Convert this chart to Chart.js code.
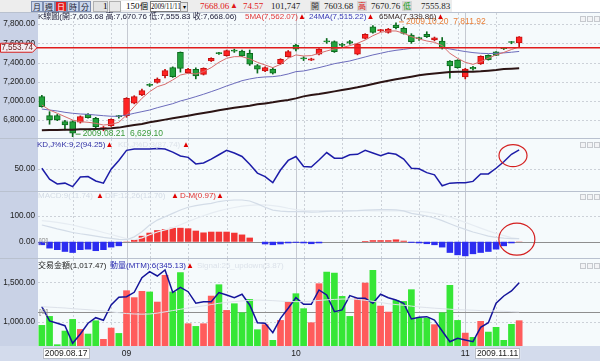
<!DOCTYPE html>
<html>
<head>
<meta charset="utf-8">
<script src="https://cdn.jsdelivr.net/npm/chart.js@4.4.1/dist/chart.umd.min.js"></script>
<style>
body{margin:0;width:600px;height:361px;overflow:hidden;position:relative;background:#b9c1cf;font-family:"Liberation Sans","Noto Sans CJK TC",sans-serif;}
canvas{position:absolute;left:0;}
.t{position:absolute;white-space:nowrap;font-size:8px;line-height:10px;}
.b{position:absolute;top:1px;width:10px;height:9px;border:1px solid #7d8db0;background:#c9d5ec;font:8px/9px "Noto Sans CJK TC";text-align:center;color:#223;}
.on{background:#e31c1c;color:#fff;}
.n{position:absolute;top:1px;font:9px/10px "Liberation Serif",serif;white-space:nowrap;}
.ic{position:absolute;width:4px;height:4px;border:1px solid #c6c9ce;background:#f2f3f5;}
</style>
</head>
<body>
<div style="position:absolute;left:0;top:0;width:600px;height:12px;background:#fff;"></div>
<div style="position:absolute;left:0;top:0;width:452px;height:12px;background:#ededed;"></div>
<span class="b" style="left:31px">月</span><span class="b" style="left:43px">週</span><span class="b on" style="left:55px">日</span><span class="b" style="left:67px">時</span><span class="b" style="left:79px">分</span>
<div style="position:absolute;left:93px;top:1px;width:13px;height:9px;border:1px solid #b0b0b0;background:#e2e2e2;"></div>
<span class="n" style="left:103px">1</span>
<div style="position:absolute;left:109px;top:1px;width:10px;height:9px;border:1px solid #b0b0b0;background:#e8e8e8;"></div>
<div style="position:absolute;left:121px;top:1px;width:19px;height:9px;background:#fff;"></div>
<span class="n" style="left:126px">150</span>
<span class="n" style="left:140px;font-family:'Noto Sans CJK TC';font-size:8px">個</span>
<div style="position:absolute;left:150px;top:1px;width:29px;height:9px;border:1px solid #7a7a7a;background:#fff;"></div>
<span class="n" style="left:151px;font-size:8.5px;transform:scaleX(0.78);transform-origin:0 0">2009/11/11</span>
<div style="position:absolute;left:180px;top:2px;width:6px;height:8px;border:1px solid #9a9a9a;background:#e8e8e8;font:6px/8px sans-serif;text-align:center;">▾</div>
<span class="n" style="left:200px;color:#e01818">7668.06</span>
<span class="n" style="left:230px;color:#e01818;font-size:8px">▲</span>
<span class="n" style="left:243px;color:#e01818">74.57</span>
<span class="n" style="left:271px;color:#222">101,747</span>
<div style="position:absolute;left:310px;top:1px;width:10px;height:10px;background:#d6d6d6;"></div>
<span class="n" style="left:311px;font-family:'Noto Sans CJK TC';font-size:8px;color:#333">開</span>
<span class="n" style="left:324px;color:#222">7603.68</span>
<div style="position:absolute;left:357px;top:1px;width:10px;height:10px;background:#d6d6d6;"></div>
<span class="n" style="left:358px;font-family:'Noto Sans CJK TC';font-size:8px;color:#e01818">高</span>
<span class="n" style="left:371px;color:#222">7670.76</span>
<div style="position:absolute;left:402px;top:1px;width:10px;height:10px;background:#d6d6d6;"></div>
<span class="n" style="left:403px;font-family:'Noto Sans CJK TC';font-size:8px;color:#18a018">低</span>
<span class="n" style="left:421px;color:#222">7555.83</span>

<canvas id="cPrice" width="600" height="125" style="top:13px"></canvas>
<canvas id="cKD" width="600" height="52" style="top:139px"></canvas>
<canvas id="cMACD" width="600" height="66" style="top:192px"></canvas>
<canvas id="cVol" width="600" height="102" style="top:259px"></canvas>

<span class="t" style="left:38px;top:12px;color:#1c1c38">K線圖(開:7,603.68 高:7,670.76 低:7,555.83 收:7,668.06)</span>
<span class="t" style="left:245px;top:12px;color:#e23a3a">5MA(7,562.07)<span style="color:#e00000">▲</span></span>
<span class="t" style="left:309px;top:12px;color:#3a3ab4">24MA(7,515.22)<span style="color:#e00000">▲</span></span>
<span class="t" style="left:379px;top:12px;color:#3a2a2a">65MA(7,339.86)<span style="color:#e00000">▲</span></span>

<span class="t" style="left:37px;top:140px;color:#3030a4">KD,J%K:9,2(94.25)<span style="color:#e00000">▲</span></span>
<span class="t" style="left:118px;top:140px;color:#dde3ea">KD,J%D:3(87.74)</span>
<span class="t" style="left:182px;top:140px;color:#e00000">▲</span>

<span class="t" style="left:38px;top:191px;color:#d3dbe5">MACD:9(11.74)</span>
<span class="t" style="left:96px;top:191px;color:#e00000">▲</span>
<span class="t" style="left:105px;top:191px;color:#d3dbe5">DIF:12,26(12.70)</span>
<span class="t" style="left:171px;top:191px;color:#e00000">▲</span>
<span class="t" style="left:180px;top:191px;color:#e03030">D-M(0.97)<span style="color:#e00000">▲</span></span>
<span class="t" style="left:39px;top:236px;color:#8a8a8a">[0]</span>

<span class="t" style="left:38px;top:261px;color:#222">交易金額(1,017.47)</span>
<span class="t" style="left:110px;top:261px;color:#2c2cb0">動量(MTM):6(345.13)<span style="color:#e00000">▲</span></span>
<span class="t" style="left:197px;top:261px;color:#dce2ea">Signal:25_updown(3.87)</span>
<span class="t" style="left:39px;top:307px;color:#8a8a8a">[0]</span>

<div class="ic" style="left:580px;top:16px"></div><div class="ic" style="left:587px;top:16px"></div><div class="ic" style="left:594px;top:16px"></div>
<div class="ic" style="left:580px;top:142px"></div><div class="ic" style="left:587px;top:142px"></div><div class="ic" style="left:594px;top:142px"></div>
<div class="ic" style="left:580px;top:194px"></div><div class="ic" style="left:587px;top:194px"></div><div class="ic" style="left:594px;top:194px"></div>
<div class="ic" style="left:580px;top:263px"></div><div class="ic" style="left:587px;top:263px"></div><div class="ic" style="left:594px;top:263px"></div>

<script>
// trading days (categories)
const dates = [
  '2009.08.17','2009.08.18','2009.08.19','2009.08.20','2009.08.21','2009.08.24','2009.08.25','2009.08.26','2009.08.27','2009.08.28','2009.08.31',
  '2009.09.01','2009.09.02','2009.09.03','2009.09.04','2009.09.07','2009.09.08','2009.09.09','2009.09.10','2009.09.11','2009.09.14','2009.09.15',
  '2009.09.16','2009.09.17','2009.09.18','2009.09.21','2009.09.22','2009.09.23','2009.09.24','2009.09.25','2009.09.28','2009.09.29','2009.09.30',
  '2009.10.01','2009.10.02','2009.10.05','2009.10.06','2009.10.07','2009.10.08','2009.10.09','2009.10.12','2009.10.13','2009.10.14','2009.10.15',
  '2009.10.16','2009.10.19','2009.10.20','2009.10.21','2009.10.22','2009.10.23','2009.10.26','2009.10.27','2009.10.28','2009.10.29','2009.10.30',
  '2009.11.02','2009.11.03','2009.11.04','2009.11.05','2009.11.06','2009.11.09','2009.11.10','2009.11.11'
];

const openP = [7045,6847,6847,6785,6785,6779,6862,6820,6712,6740, 6845,6847,6976,7062,7168,7194,7263,7347,7506,7295,
  7330,7277,7416,7498,7471,7522,7520,7496,7368,7312, 7333,7388,7461,7582,7442,7425,7487,7620,7617,7582,
  7617,7487,7651,7772,7732,7714,7790,7755,7686,7652, 7693,7634,7624,7416,7426,7250,7350,7386,7475,7510, 7547,7612,7603.68];
const highP = [7060,6889,6860,6800,6795,6845,6870,6830,6735,6815, 6850,7035,7055,7125,7180,7240,7330,7355,7510,7340,
  7345,7345,7450,7505,7530,7540,7530,7530,7380,7355, 7345,7440,7525,7590,7460,7445,7545,7650,7625,7600,
  7630,7600,7700,7785,7745,7755,7811.92,7770,7700,7665, 7720,7665,7660,7420,7430,7340,7360,7470,7480,7515, 7555,7620,7670.76];
const lowP = [6935,6758,6795,6700,6629.1,6770,6820,6720,6690,6735, 6820,6830,6970,7055,7150,7185,7240,7245,7300,7290,
  7230,7270,7410,7485,7465,7505,7460,7370,7290,7305, 7280,7380,7455,7520,7420,7420,7480,7600,7505,7560,
  7590,7480,7645,7705,7720,7705,7750,7695,7600,7630, 7660,7625,7540,7236,7340,7230,7320,7380,7425,7470, 7535,7595,7555.83];
const closeP = [6941,6802,6802,6750,6664,6837,6827,6733,6718,6810, 6838,7028,7045,7107,7162,7229,7315,7253,7339,7330,
  7261,7340,7444,7492,7523,7518,7468,7382,7330,7347, 7288,7434,7513,7540,7438,7438,7539,7614,7513,7578,
  7600,7592,7693,7714,7736,7748,7762,7703,7617,7648, 7670,7658,7548,7364,7347,7333,7333,7465,7430,7475, 7543,7608,7668.06];

const ma5 = [6958,6906,6872,6837,6802,6785,6778,6768,6750,6757, 6778,6854,6941,7028,7097,7149,7174,7219,7270,7288,
  7281,7305,7347,7402,7444,7461,7461,7437,7402,7374, 7347,7381,7444,7479,7468,7472,7496,7520,7541,7555,
  7576,7600,7634,7679,7714,7728,7728,7704,7669,7645, 7624,7610,7576,7496,7444,7402,7381,7409,7444,7480, 7505,7535,7562.07];
const ma24 = [6916,6906,6896,6882,6872,6865,6861,6854,6847,6841, 6841,6854,6872,6889,6906,6930,6951,6972,7000,7021,
  7045,7070,7097,7125,7156,7183,7211,7229,7243,7250, 7253,7263,7281,7305,7312,7329,7347,7367,7388,7402,
  7416,7437,7458,7479,7496,7514,7527,7537,7548,7551, 7555,7555,7555,7541,7527,7514,7503,7496,7493,7496, 7500,7507,7515.22];
const ma65 = [6695,6698,6698,6702,6702,6705,6705,6709,6712,6716, 6723,6737,6750,6761,6778,6792,6806,6820,6833,6847,
  6861,6875,6889,6903,6916,6930,6941,6951,6965,6975, 6986,7000,7010,7027,7048,7062,7073,7086,7100,7114,
  7128,7142,7159,7176,7194,7211,7225,7239,7253,7267, 7277,7287,7294,7301,7305,7305,7305,7308,7315,7322, 7333,7336,7339.86];

const kLine = [52,27,16,18,10,32,33,23,18,50, 70,93,96,96,96,97,96,89,80,77,
  62,64,73,83,93,87,79,61,41,33, 19,48,70,79,56,55,71,88,75,75,
  83,84,93,87,81,87,84,73,52,51, 42,37,12,18,19,19,22,39,39,52, 67,84,94.25];

const dif = [65,58,50,43,36,31,27,22,17,13, 9,8,19,39,65,84,97,110,123,134,
  140,145,149,156,160,162,162,158,147,134, 123,119,117,117,117,115,116,118,119,119,
  120,121,123,124,125,125,124,120,110,105, 100,92,82,70,58,48,38,30,22,17, 14,12,12.26];
const macdSig = [82,79,75,70,65,58,51,44,36,28, 20,12,8,15,27,38,46,54,66,78,
  90,101,111,120,127,133,138,141,143,143, 140,136,130,125,122,121,121,121,121,121,
  121,121,121,120,120,120,120,120,120,118, 115,110,104,96,86,75,64,53,42,32, 24,16,11.74];
const osc = [-13,-26,-32,-39,-43,-32,-30,-36,-32,-22, -17,1,9,23,35,45,49,54,54,52,
  43,36,39,39,39,35,28,16,0,-10, -13,-10,-6,-4,-6,-9,-6,0,0,0,
  0,0,3,6,6,6,9,4,-4,-6, -9,-13,-22,-43,-52,-56,-48,-43,-39,-30, -17,-6,0.97];

const volume = [958,1072,713,886,1034,907,848,1017,781,924, 856,1398,1310,1390,1382,1254,1593,1382,1627,979,
  945,979,1330,1474,1148,1233,1119,1288,903,967, 768,1021,1254,1360,1170,992,1487,1635,1622,1326,
  1072,1297,1495,1656,1203,1127,1275,1262,1411,1051, 1051,967,1119,1466,1021,860,806,1009,873,933, 768,971,1017.47];
const mtm = [65,-101,-128,-156,-362,-253,-128,-63,-93,85, 175,182,233,403,473,423,493,233,291,240,
  105,124,124,229,202,170,210,85,-121,-128, -238,-70,47,170,93,93,260,202,7,27,
  194,163,163,105,210,170,143,105,-78,-58, -51,-90,-218,-343,-303,-323,-343,-175,-121,105, 190,248,345.13];
const mtmSignal = [65,60,55,50,42,36,30,22,15,5, -5,-15,-20,-22,-20,-10,5,20,35,50,
  62,75,90,105,115,125,132,138,142,140, 136,130,126,124,124,130,138,145,150,154,
  155,150,140,128,115,100,90,82,72,62, 55,48,42,36,30,27,24,20,17,14, 11,7,3.87];

const priceTicks = [6800, 7000, 7200, 7400, 7600, 7800];
const kdTicks = [50];
const macdTicks = [0, 100];
const volTicks = [1000, 1500];
const lastClose = 7553.74;
const monthIdx = [11, 33, 55];
const xTickIdx = [0, 11, 33, 55, 62];
const xTickText = ['2009.08.17', '09', '10', '11', '2009.11.11'];

const N = dates.length;
const idx = dates.map((d, i) => i);
const up = idx.map(i => closeP[i] >= openP[i]);
const xy = arr => arr.map((v, i) => ({x: i, y: v}));
const fmt = v => v.toLocaleString('en-US', {minimumFractionDigits: 2, maximumFractionDigits: 2});

function hline(ctx, y, x0, x1) { y = Math.round(y) + 0.5; ctx.beginPath(); ctx.moveTo(x0, y); ctx.lineTo(x1, y); ctx.stroke(); }
function vline(ctx, x, y0, y1) { x = Math.round(x) + 0.5; ctx.beginPath(); ctx.moveTo(x, y0); ctx.lineTo(x, y1); ctx.stroke(); }

function panel(opts) {
  return {
    id: 'panel',
    beforeDraw(chart) {
      const {ctx, chartArea: a, width, height} = chart;
      const x = chart.scales.x, y = chart.scales.y;
      ctx.save();
      ctx.fillStyle = '#c9d2e6';
      ctx.fillRect(0, 0, width, height);
      ctx.fillStyle = '#f5fafc';
      ctx.fillRect(a.left, a.top, width - a.left, a.bottom - a.top);
      if (opts.band) {
        ctx.fillStyle = '#d3dbec';
        ctx.fillRect(0, a.bottom, width, height - a.bottom);
      }
      ctx.lineWidth = 1;
      ctx.strokeStyle = '#ccd1d8';
      ctx.setLineDash([2, 2]);
      for (let i = 4; i < N; i += 5) vline(ctx, x.getPixelForValue(i), a.top, a.bottom);
      for (const t of y.ticks) hline(ctx, y.getPixelForValue(t.value), a.left, width);
      ctx.setLineDash([]);
      ctx.strokeStyle = '#c6cad2';
      for (const i of monthIdx) vline(ctx, x.getPixelForValue(i), a.top, a.bottom);
      if (opts.zero) {
        ctx.strokeStyle = '#8e8e8e';
        hline(ctx, chart.scales[opts.zero].getPixelForValue(0), a.left, width);
      }
      ctx.restore();
    },
    afterDatasetsDraw(chart) { if (opts.after) opts.after(chart); }
  };
}

function yAxis(min, max, ticks) {
  return {
    position: 'left', min, max, beginAtZero: false,
    grid: {display: false, drawTicks: false, tickLength: 0}, border: {display: false},
    afterFit: s => { s.width = 38; s.paddingTop = 0; s.paddingBottom = 0; },
    afterBuildTicks: s => { s.ticks = ticks.map(v => ({value: v})); },
    ticks: {padding: 3, color: '#222', font: {size: 8.2, family: 'Liberation Sans'}, callback: v => fmt(v)}
  };
}
function xAxis(show) {
  return {
    type: 'linear', min: -0.5, max: 72.5, offset: false, display: show,
    grid: {display: false, drawTicks: false}, border: {display: false}, ticks: {display: false},
    afterFit: s => { s.height = show ? 15 : 0; s.paddingLeft = 0; s.paddingRight = 0; }
  };
}
function baseOptions(scales) {
  return {
    responsive: false, animation: false, events: [],
    layout: {padding: 0},
    plugins: {legend: {display: false}, tooltip: {enabled: false}},
    scales
  };
}
const line = (data, color, w, extra) => Object.assign({type: 'line', data: xy(data), borderColor: color, borderWidth: w, pointRadius: 0, fill: false, tension: 0, order: 0}, extra || {});

// price panel
new Chart(document.getElementById('cPrice'), {
  type: 'bar',
  data: {datasets: [
    line(ma5, '#d86c6c', 1),
    line(ma24, '#6c6cbc', 1),
    line(ma65, '#2c1414', 2),
    {data: idx.map(i => ({x: i, y: [openP[i], closeP[i]]})),
      backgroundColor: up.map(u => u ? '#ff2222' : '#22a23c'),
      borderColor: up.map(u => u ? '#c41010' : '#0c6a1e'),
      borderWidth: 1, borderSkipped: false, barThickness: 6, minBarLength: 1, grouped: false, order: 1},
    {data: idx.map(i => ({x: i, y: [lowP[i], highP[i]]})),
      backgroundColor: up.map(u => u ? '#c41010' : '#0c6a1e'),
      barThickness: 1, grouped: false, order: 2}
  ]},
  options: baseOptions({x: xAxis(false), y: yAxis(6615, 7915, priceTicks)}),
  plugins: [panel({after(chart) {
    const {ctx, width} = chart;
    const x = chart.scales.x, y = chart.scales.y;
    ctx.save();
    // last close guide line and tag
    const py = y.getPixelForValue(lastClose);
    ctx.strokeStyle = '#e01c1c'; ctx.lineWidth = 1.6;
    ctx.beginPath(); ctx.moveTo(36, py); ctx.lineTo(width, py); ctx.stroke();
    ctx.lineWidth = 1;
    ctx.beginPath();
    ctx.moveTo(0.5, py - 4.5); ctx.lineTo(32.5, py - 4.5); ctx.lineTo(37, py); ctx.lineTo(32.5, py + 4.5); ctx.lineTo(0.5, py + 4.5); ctx.closePath();
    ctx.fillStyle = '#f3eef2'; ctx.fill(); ctx.strokeStyle = '#d42020'; ctx.stroke();
    ctx.fillStyle = '#6a1a1a'; ctx.font = '8.2px "Liberation Sans"'; ctx.textAlign = 'right'; ctx.textBaseline = 'middle';
    ctx.fillText(fmt(lastClose), 33, py + 0.5);
    // low / high markers
    ctx.textAlign = 'left';
    ctx.font = '8.5px "Liberation Sans"';
    const lo = 4, hi = 46;
    const lx = x.getPixelForValue(lo), ly = y.getPixelForValue(lowP[lo]) - 2.5;
    ctx.strokeStyle = '#3a9a3a'; ctx.beginPath(); ctx.moveTo(lx + 3, ly); ctx.lineTo(lx + 8, ly); ctx.stroke();
    ctx.fillStyle = '#3a9a3a'; ctx.fillText(dates[lo] + '  ' + fmt(lowP[lo]), lx + 10, ly);
    const hx = x.getPixelForValue(hi), hy = y.getPixelForValue(highP[hi]) - 1;
    ctx.strokeStyle = '#e8803a'; ctx.beginPath(); ctx.moveTo(hx + 3, hy); ctx.lineTo(hx + 8, hy); ctx.stroke();
    ctx.fillStyle = '#e8803a'; ctx.fillText(dates[hi] + '  ' + fmt(highP[hi]), hx + 10, hy);
    ctx.restore();
  }})]
});

// KD panel
new Chart(document.getElementById('cKD'), {
  type: 'line',
  data: {datasets: [line(kLine, '#1c1ca8', 1.5)]},
  options: baseOptions({x: xAxis(false), y: yAxis(0, 119, kdTicks)}),
  plugins: [panel({after(chart) {
    const {ctx} = chart;
    const x = chart.scales.x, y = chart.scales.y;
    ctx.save();
    ctx.strokeStyle = '#d42020'; ctx.lineWidth = 1.2;
    ctx.beginPath();
    ctx.ellipse(x.getPixelForValue(61.2), y.getPixelForValue(81), 14, 11, 0, 0, Math.PI * 2);
    ctx.stroke();
    ctx.restore();
  }})]
});

// MACD panel
new Chart(document.getElementById('cMACD'), {
  type: 'bar',
  data: {datasets: [
    line(dif, '#d3dce7', 1.2),
    line(macdSig, '#e6ecf2', 1.2),
    {data: xy(osc), backgroundColor: osc.map(v => v >= 0 ? '#f23434' : '#2c2cf0'),
      barPercentage: 0.84, categoryPercentage: 1, grouped: false, order: 1}
  ]},
  options: baseOptions({x: xAxis(false), y: yAxis(-63, 193, macdTicks)}),
  plugins: [panel({zero: 'y', after(chart) {
    const {ctx} = chart;
    const x = chart.scales.x, y = chart.scales.y;
    ctx.save();
    ctx.strokeStyle = '#d42020'; ctx.lineWidth = 1.2;
    ctx.beginPath();
    ctx.ellipse(x.getPixelForValue(61.7), y.getPixelForValue(10), 18, 16, 0, 0, Math.PI * 2);
    ctx.stroke();
    ctx.restore();
  }})]
});

// turnover + momentum panel
new Chart(document.getElementById('cVol'), {
  type: 'bar',
  data: {datasets: [
    line(mtmSignal, '#dde2ea', 1, {yAxisID: 'y2'}),
    line(mtm, '#14149a', 1.5, {yAxisID: 'y2'}),
    {data: xy(volume), backgroundColor: up.map(u => u ? '#ff5c5c' : '#36e636'),
      barPercentage: 0.87, categoryPercentage: 1, grouped: false, order: 1, yAxisID: 'y'}
  ]},
  options: baseOptions({
    x: xAxis(true),
    y: yAxis(692, 1796, volTicks),
    y2: {display: false, min: -393, max: 621}
  }),
  plugins: [panel({band: true, zero: 'y2', after(chart) {
    const {ctx, chartArea: a, height} = chart;
    const x = chart.scales.x;
    ctx.save();
    ctx.font = '8.5px "Liberation Sans"';
    ctx.textBaseline = 'middle';
    const ty = a.bottom + (height - a.bottom) / 2 + 0.5;
    xTickIdx.forEach((i, k) => {
      const t = xTickText[k];
      const px = x.getPixelForValue(i);
      const w = ctx.measureText(t).width;
      if (t.length > 2) {
        const left = k === 0 ? px + 1 : px + 1 - w - 4;
        ctx.fillStyle = '#ffffff';
        ctx.fillRect(left, a.bottom + 2, w + 4, 11);
        ctx.strokeStyle = '#b8bcc4'; ctx.lineWidth = 1;
        ctx.strokeRect(Math.round(left) + 0.5, a.bottom + 2.5, Math.round(w + 3), 10);
        ctx.fillStyle = '#1a1a1a';
        ctx.fillText(t, left + 2, ty);
      } else {
        ctx.fillStyle = '#1a1a1a';
        ctx.fillText(t, px - w / 2, ty);
      }
    });
    ctx.restore();
  }})]
});
</script>
</body>
</html>
